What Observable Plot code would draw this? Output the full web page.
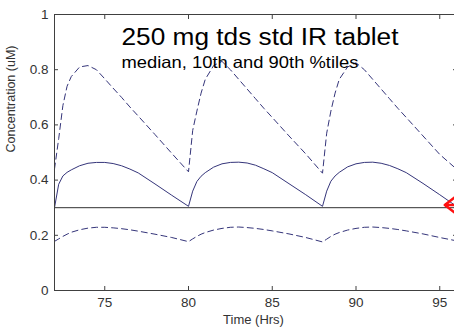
<!DOCTYPE html>
<html><head><meta charset="utf-8">
<script src="https://cdn.jsdelivr.net/npm/d3@7"></script>
<script src="https://cdn.jsdelivr.net/npm/@observablehq/plot@0.6"></script>
<style>
body{margin:0;background:#fff;}
#chart svg{font-family:"Liberation Sans", Arial, Helvetica, sans-serif;background:#fff;}
</style>
</head><body><div id="chart"></div>
<script>
const hours = [72,72.25,72.5,72.75,73,73.5,74,74.5,75,75.5,76,76.5,77,78,79,
  80,80.25,80.5,80.75,81,81.5,82,82.5,83,83.5,84,84.5,85,86,87,
  88,88.25,88.5,88.75,89,89.5,90,90.5,91,91.5,92,92.5,93,94,95,96];
const median = [0.300,0.385,0.415,0.428,0.437,0.452,0.461,0.464,0.464,0.460,0.452,0.440,0.426,0.386,0.345,
  0.305,0.360,0.395,0.414,0.427,0.447,0.459,0.464,0.465,0.462,0.454,0.441,0.427,0.387,0.347,
  0.305,0.360,0.396,0.415,0.428,0.448,0.459,0.464,0.465,0.461,0.453,0.441,0.427,0.388,0.347,0.305];
const p90 = [0.440,0.550,0.670,0.740,0.775,0.810,0.815,0.800,0.767,0.733,0.700,0.665,0.632,0.565,0.497,
  0.430,0.580,0.650,0.715,0.765,0.815,0.830,0.800,0.765,0.730,0.695,0.660,0.627,0.560,0.495,
  0.425,0.570,0.650,0.715,0.765,0.810,0.825,0.800,0.765,0.730,0.695,0.660,0.627,0.560,0.493,0.440];
const p10 = [0.178,0.187,0.196,0.204,0.211,0.220,0.226,0.229,0.229,0.227,0.224,0.220,0.215,0.204,0.192,
  0.177,0.187,0.196,0.204,0.210,0.219,0.225,0.229,0.230,0.228,0.225,0.221,0.216,0.205,0.192,
  0.176,0.186,0.196,0.204,0.210,0.219,0.225,0.229,0.230,0.228,0.225,0.221,0.216,0.205,0.192,0.180];
const threshold = 0.3;
const xTicks = [75,80,85,90,95];
const yTicks = [0,0.2,0.4,0.6,0.8,1];
const titleText = "250 mg tds std IR tablet";
const subtitleText = "median, 10th and 90th %tiles";
const xLabel = "Time (Hrs)";
const yLabel = "Concentration (uM)";
const arrowX = [97.5, 95.3];
const arrowY = [0.31, 0.31];

const rows = hours.map((h, i) => ({h, median: median[i], p90: p90[i], p10: p10[i]}));
const arrows = [{x1: arrowX[0], y1: arrowY[0], x2: arrowX[1], y2: arrowY[1]}];
const axisColor = "#404040";
const labelColor = "#333";
const lineColor = "#35357a";

const chart = Plot.plot({
  width: 454, height: 327,
  marginLeft: 54, marginRight: -2, marginTop: 14, marginBottom: 37,
  x: {domain: [72, 96]},
  y: {domain: [0, 1]},
  marks: [
    Plot.ruleY([threshold], {stroke: "#303030", strokeWidth: 1}),
    Plot.line(rows, {x: "h", y: "p90", stroke: lineColor, strokeWidth: 1, strokeDasharray: "6,4"}),
    Plot.line(rows, {x: "h", y: "median", stroke: lineColor, strokeWidth: 1}),
    Plot.line(rows, {x: "h", y: "p10", stroke: lineColor, strokeWidth: 1, strokeDasharray: "6,4"}),
    Plot.arrow(arrows, {x1: "x1", y1: "y1", x2: "x2", y2: "y2", stroke: "#ff1010", strokeWidth: 2.5, headLength: 15, headAngle: 75}),
    Plot.ruleX([72], {stroke: axisColor}),
    Plot.ruleY([0, 1], {stroke: axisColor}),
    Plot.axisX(xTicks, {anchor: "bottom", tickSize: -4, text: null, label: null, stroke: axisColor}),
    Plot.axisX(xTicks, {anchor: "top", tickSize: -4, text: null, label: null, stroke: axisColor}),
    Plot.axisX(xTicks, {anchor: "bottom", tickSize: 0, tickPadding: 7, label: null, fontSize: 13.5, fill: labelColor}),
    Plot.axisY(yTicks, {anchor: "left", tickSize: -4, text: null, label: null, stroke: axisColor}),
    Plot.axisY(yTicks, {anchor: "right", tickSize: -4, text: null, label: null, stroke: axisColor}),
    Plot.axisY(yTicks, {anchor: "left", tickSize: 0, tickPadding: 6, label: null, fontSize: 13.5, fill: labelColor, tickFormat: (d) => `${d}`}),
    Plot.text([titleText], {frameAnchor: "top-left", dx: 67, dy: 30, lineAnchor: "bottom", textAnchor: "start", fontSize: 23, fill: "#000", className: "ttl"}),
    Plot.text([subtitleText], {frameAnchor: "top-left", dx: 67, dy: 53, lineAnchor: "bottom", textAnchor: "start", fontSize: 16.5, fill: "#000", className: "sub"}),
    Plot.text([xLabel], {frameAnchor: "bottom", dx: -2, dy: 33, lineAnchor: "bottom", fontSize: 13, fill: labelColor}),
    Plot.text([yLabel], {frameAnchor: "left", dx: -44, rotate: -90, fontSize: 12.5, fill: labelColor})
  ]
});
document.getElementById("chart").append(chart);
d3.select(chart).selectAll(".ttl text").attr("textLength", 277).attr("lengthAdjust", "spacingAndGlyphs");
d3.select(chart).selectAll(".sub text").attr("textLength", 237).attr("lengthAdjust", "spacingAndGlyphs");
</script>
</body></html>
